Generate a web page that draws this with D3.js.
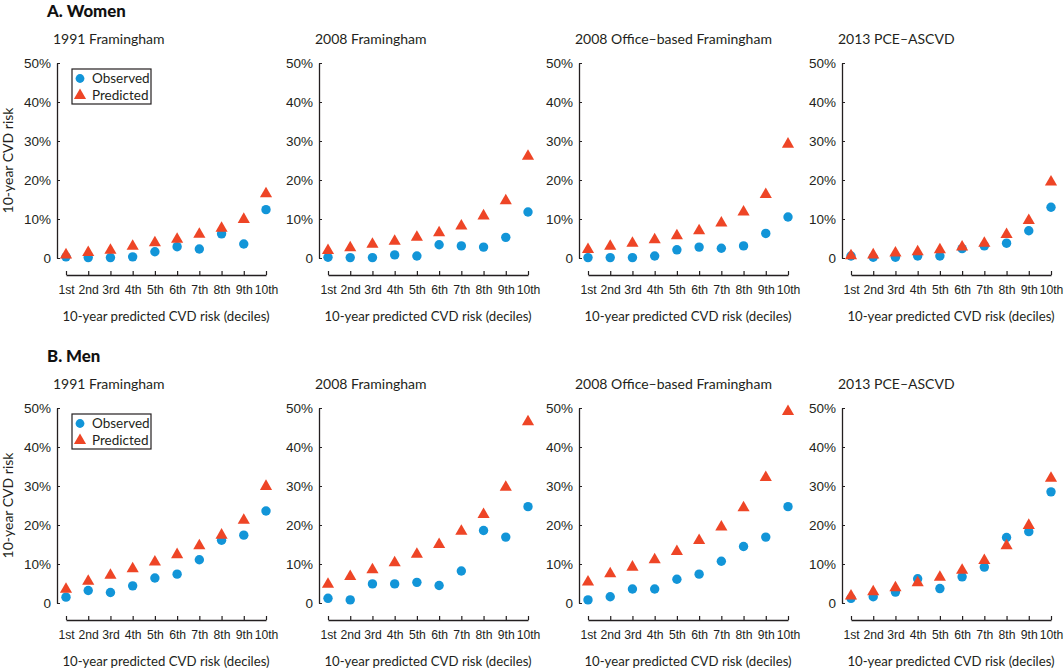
<!DOCTYPE html>
<html>
<head>
<meta charset="utf-8">
<script src="https://cdn.jsdelivr.net/npm/d3@7"></script>
<style>
  body { margin: 0; background: #fff; }
  svg { display: block; font-family: Lato, "Open Sans", sans-serif; }
  .tick-label { font-size: 13.5px; fill: #231f20; }
  .x-tick { font-size: 12.2px; fill: #231f20; }
  .sub { font-size: 14px; fill: #231f20; }
  .axis-label { font-size: 13.2px; fill: #231f20; }
  .title { font-size: 16.8px; font-weight: 900; fill: #111; }
</style>
</head>
<body>
<div id="chart"></div>
<script>
// sizes
const wide = 1064;
const high = 668;

// data: deciles and risk values (%)
const deciles = ["1st", "2nd", "3rd", "4th", "5th", "6th", "7th", "8th", "9th", "10th"];
const yTicks = [0, 10, 20, 30, 40, 50];
const models = ["1991 Framingham", "2008 Framingham", "2008 Office\u2013based Framingham", "2013 PCE\u2013ASCVD"];

// women
const womenObs1991 = [0.3, 0.1, 0.1, 0.3, 1.6, 2.9, 2.3, 6.2, 3.6, 12.4];
const womenPred1991 = [0.8, 1.4, 2.0, 3.0, 3.9, 4.8, 6.1, 7.6, 9.9, 16.5];
const womenObs2008 = [0.2, 0.1, 0.1, 0.8, 0.5, 3.4, 3.1, 2.8, 5.3, 11.8];
const womenPred2008 = [1.9, 2.6, 3.5, 4.3, 5.3, 6.5, 8.2, 10.8, 14.7, 26.1];
const womenObsOffice = [0.1, 0.1, 0.1, 0.5, 2.1, 2.8, 2.5, 3.1, 6.3, 10.5];
const womenPredOffice = [2.2, 3.0, 3.8, 4.7, 5.7, 7.0, 9.0, 11.8, 16.3, 29.2];
const womenObsPce = [0.5, 0.2, 0.2, 0.5, 0.5, 2.4, 3.1, 3.8, 7.0, 13.0];
const womenPredPce = [0.6, 0.8, 1.3, 1.6, 2.1, 2.8, 3.8, 6.0, 9.6, 19.5];

// men
const menObs1991 = [1.5, 3.2, 2.7, 4.4, 6.4, 7.4, 11.1, 16.1, 17.4, 23.6];
const menPred1991 = [3.5, 5.6, 7.1, 8.8, 10.5, 12.4, 14.7, 17.4, 21.2, 29.9];
const menObs2008 = [1.2, 0.8, 4.9, 4.9, 5.3, 4.5, 8.2, 18.6, 16.9, 24.7];
const menPred2008 = [4.8, 6.8, 8.5, 10.3, 12.5, 15.0, 18.4, 22.7, 29.7, 46.5];
const menObsOffice = [0.8, 1.6, 3.6, 3.6, 6.1, 7.4, 10.7, 14.5, 16.9, 24.7];
const menPredOffice = [5.4, 7.5, 9.2, 11.1, 13.2, 16.0, 19.5, 24.4, 32.2, 49.1];
const menObsPce = [1.2, 1.6, 2.8, 6.2, 3.7, 6.7, 9.2, 16.8, 18.3, 28.5];
const menPredPce = [1.8, 2.9, 3.9, 5.2, 6.6, 8.4, 10.9, 14.7, 19.9, 32.0];

const rows = [
   { title: "A. Women", top: 63,
     obs: [womenObs1991, womenObs2008, womenObsOffice, womenObsPce],
     pred: [womenPred1991, womenPred2008, womenPredOffice, womenPredPce] },
   { title: "B. Men", top: 408,
     obs: [menObs1991, menObs2008, menObsOffice, menObsPce],
     pred: [menPred1991, menPred2008, menPredOffice, menPredPce] }
];

const panelX = [57, 319, 579, 842];
const plotH = 195;
const blue = "#1295d8";
const red = "#ee4526";
const ink = "#231f20";

const xScale = d3.scalePoint().domain(deciles).range([9, 209]);
const yScale = d3.scaleLinear().domain([0, 50]).range([plotH, 0]);
const tri = d3.symbol().type(d3.symbolTriangle).size(64);

const svg = d3.select("#chart").append("svg")
   .attr("width", wide)
   .attr("height", high);

rows.forEach((row) => {
   // row heading
   svg.append("text")
      .attr("class", "title")
      .attr("x", 47)
      .attr("y", row.top - 46)
      .text(row.title);

   // y axis label
   svg.append("text")
      .attr("class", "axis-label")
      .attr("transform", `translate(13, ${row.top + plotH / 2}) rotate(-90)`)
      .attr("text-anchor", "middle")
      .style("font-size", "14px")
      .text("10-year CVD risk");

   models.forEach((name, m) => {
      const g = svg.append("g")
         .attr("transform", `translate(${panelX[m]}, ${row.top})`);

      g.append("text")
         .attr("class", "sub")
         .attr("x", -4)
         .attr("y", -19)
         .text(name);

      // y axis
      const yAxis = d3.axisLeft(yScale)
         .tickValues(yTicks)
         .tickSize(-3)
         .tickSizeOuter(0)
         .tickPadding(6)
         .tickFormat((d) => (d === 0 ? "0" : d + "%"));
      const ya = g.append("g").call(yAxis);
      ya.select(".domain").attr("stroke", ink).attr("stroke-width", 1.3);
      ya.selectAll(".tick line").attr("stroke", ink);
      ya.selectAll(".tick text").attr("class", "tick-label").attr("font-family", null).attr("font-size", null);

      // x axis
      const xAxis = d3.axisBottom(xScale)
         .tickSize(-4)
         .tickSizeOuter(0)
         .tickPadding(10);
      const xa = g.append("g")
         .attr("transform", `translate(0, ${plotH + 17})`)
         .call(xAxis);
      xa.select(".domain").attr("stroke", ink).attr("stroke-width", 1.6);
      xa.selectAll(".tick line").attr("stroke", ink).attr("stroke-width", 1.2);
      xa.selectAll(".tick text").attr("class", "x-tick").attr("font-family", null).attr("font-size", null);

      g.append("text")
         .attr("class", "axis-label")
         .attr("x", (xScale.range()[0] + xScale.range()[1]) / 2)
         .attr("y", plotH + 63)
         .attr("text-anchor", "middle")
         .text("10-year predicted CVD risk (deciles)");

      // observed
      g.selectAll("circle.obs")
         .data(row.obs[m])
         .enter()
         .append("circle")
         .attr("class", "obs")
         .attr("cx", (d, i) => xScale(deciles[i]))
         .attr("cy", (d) => yScale(d))
         .attr("r", 4.7)
         .attr("fill", blue);

      // predicted
      g.selectAll("path.pred")
         .data(row.pred[m])
         .enter()
         .append("path")
         .attr("class", "pred")
         .attr("d", tri)
         .attr("transform", (d, i) => `translate(${xScale(deciles[i])}, ${yScale(d)})`)
         .attr("fill", red);

      // legend in first panel
      if (m === 0) {
         const lg = g.append("g").attr("transform", "translate(15, 6)");
         lg.append("rect")
            .attr("width", 79)
            .attr("height", 35)
            .attr("fill", "#fff")
            .attr("stroke", ink)
            .attr("stroke-width", 1.2);
         lg.append("circle")
            .attr("cx", 8).attr("cy", 9.5).attr("r", 4.4)
            .attr("fill", blue);
         lg.append("path")
            .attr("d", tri)
            .attr("transform", "translate(8, 26.5)")
            .attr("fill", red);
         lg.append("text").attr("class", "tick-label")
            .attr("x", 20).attr("y", 14).text("Observed");
         lg.append("text").attr("class", "tick-label")
            .attr("x", 20).attr("y", 31).text("Predicted");
      }
   });
});
</script>
</body>
</html>
